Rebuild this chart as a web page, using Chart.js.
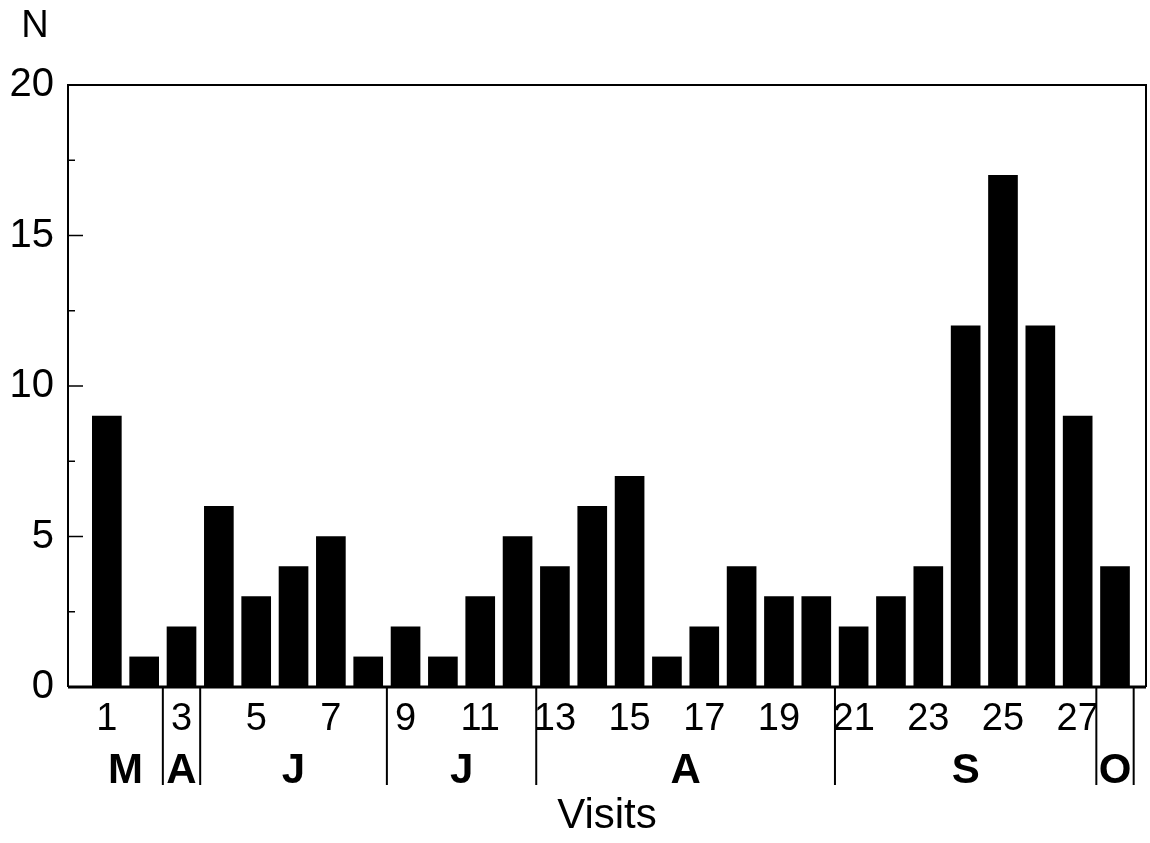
<!DOCTYPE html>
<html>
<head>
<meta charset="utf-8">
<script src="https://cdn.jsdelivr.net/npm/chart.js@4/dist/chart.umd.min.js"></script>
<style>
	html, body { margin: 0; padding: 0; background: #fff; }
	#wrap { width: 1150px; height: 843px; }
</style>
</head>
<body>
<div id="wrap"><canvas id="visitsChart" width="1150" height="843"></canvas></div>
<script>

// visit numbers and counts
var visits = [ 1, 2, 3, 4, 5, 6, 7, 8, 9, 10, 11, 12, 13, 14, 15, 16, 17, 18,
		19, 20, 21, 22, 23, 24, 25, 26, 27, 28 ];
var counts = [ 9, 1, 2, 6, 3, 4, 5, 1, 2, 1, 3, 5, 4, 6, 7, 1, 2, 4, 3, 3, 2,
		3, 4, 12, 17, 12, 9, 4 ];

// tick labels
var xTickLabels = [ 1, 3, 5, 7, 9, 11, 13, 15, 17, 19, 21, 23, 25, 27 ];
var yTickValues = [ 0, 2.5, 5, 7.5, 10, 12.5, 15, 17.5, 20 ];

// months under the axis: label, first and last visit
var monthNames = [ 'M', 'A', 'J', 'J', 'A', 'S', 'O' ];
var monthFirst = [ 1, 3, 4, 9, 13, 21, 28 ];
var monthLast = [ 2, 3, 8, 12, 20, 27, 28 ];

var FONT = "'Liberation Sans', Arial, Helvetica, sans-serif";

var chart = {

	createChartData : function() {

		var points = [];
		for (var i = 0; i < visits.length; i++) {
			points.push({ x : visits[i], y : counts[i] });
		}

		return {
			datasets : [ {
				data : points,
				backgroundColor : '#000',
				borderWidth : 0,
				barThickness : 29
			} ]
		};
	},

	// frame, inner ticks, months, N
	decorPlugin : {
		id : 'decor',
		afterDraw : function(c) {
			var ctx = c.ctx, area = c.chartArea;
			var xs = c.scales.x, ys = c.scales.y;

			ctx.save();
			ctx.strokeStyle = '#000';

			// box
			ctx.lineWidth = 2;
			ctx.beginPath();
			ctx.moveTo(area.left, area.bottom);
			ctx.lineTo(area.left, area.top);
			ctx.lineTo(area.right, area.top);
			ctx.lineTo(area.right, area.bottom);
			ctx.stroke();
			ctx.lineWidth = 3;
			ctx.beginPath();
			ctx.moveTo(area.left, area.bottom);
			ctx.lineTo(area.right, area.bottom);
			ctx.stroke();

			// inward ticks on the left axis
			ctx.lineWidth = 1.5;
			ys.ticks.forEach(function(t) {
				if (t.value <= ys.min || t.value >= ys.max) return;
				var y = ys.getPixelForValue(t.value);
				var len = (t.value % 5 === 0) ? 15 : 7;
				ctx.beginPath();
				ctx.moveTo(area.left, y);
				ctx.lineTo(area.left + len, y);
				ctx.stroke();
			});

			// month separators and labels
			ctx.lineWidth = 2;
			var edges = [];
			for (var m = 0; m < monthNames.length; m++) {
				if (m > 0) edges.push(monthFirst[m] - 0.5);
			}
			edges.push(monthLast[monthLast.length - 1] + 0.5);
			edges.forEach(function(v) {
				var x = xs.getPixelForValue(v);
				ctx.beginPath();
				ctx.moveTo(x, area.bottom);
				ctx.lineTo(x, area.bottom + 98);
				ctx.stroke();
			});

			ctx.fillStyle = '#000';
			ctx.font = 'bold 42px ' + FONT;
			ctx.textAlign = 'center';
			ctx.textBaseline = 'middle';
			for (var k = 0; k < monthNames.length; k++) {
				var mid = (monthFirst[k] + monthLast[k]) / 2;
				ctx.fillText(monthNames[k], xs.getPixelForValue(mid), area.bottom + 84);
			}

			// N
			ctx.font = '38px ' + FONT;
			ctx.fillText('N', 35, 27);

			ctx.restore();
		}
	},

	renderChart : function(chartData) {

		var context2D = document.getElementById("visitsChart").getContext("2d");

		return new Chart(context2D, {
			type : 'bar',
			data : chartData,
			plugins : [ chart.decorPlugin ],
			options : {
				responsive : false,
				animation : false,
				layout : {
					padding : { top : 85, right : 4, left : 0, bottom : 0 }
				},
				plugins : {
					legend : { display : false },
					tooltip : { enabled : false }
				},
				scales : {
					x : {
						type : 'linear',
						offset : false,
						min : -0.04,
						max : 28.83,
						afterFit : function(s) { s.height = 156; },
						afterBuildTicks : function(s) {
							s.ticks = xTickLabels.map(function(v) { return { value : v }; });
						},
						ticks : {
							autoSkip : false,
							maxRotation : 0,
							padding : 10,
							color : '#000',
							font : { family : FONT, size : 38 }
						},
						grid : { display : false, drawTicks : false, offset : false },
						border : { display : false },
						title : {
							display : true,
							text : 'Visits',
							color : '#000',
							font : { family : FONT, size : 42 },
							padding : { top : 0, bottom : 1 }
						}
					},
					y : {
						min : 0,
						max : 20,
						afterFit : function(s) { s.width = 68; },
						afterBuildTicks : function(s) {
							s.ticks = yTickValues.map(function(v) { return { value : v }; });
						},
						ticks : {
							padding : 14,
							color : '#000',
							font : { family : FONT, size : 40 },
							callback : function(v) {
								return (v % 5 === 0) ? String(v) : '';
							}
						},
						grid : { display : false, drawTicks : false },
						border : { display : false }
					}
				}
			}
		});
	},

	initChart : function() {
		var chartData = chart.createChartData();
		chart.renderChart(chartData);
	}
};

chart.initChart();
</script>
</body>
</html>
